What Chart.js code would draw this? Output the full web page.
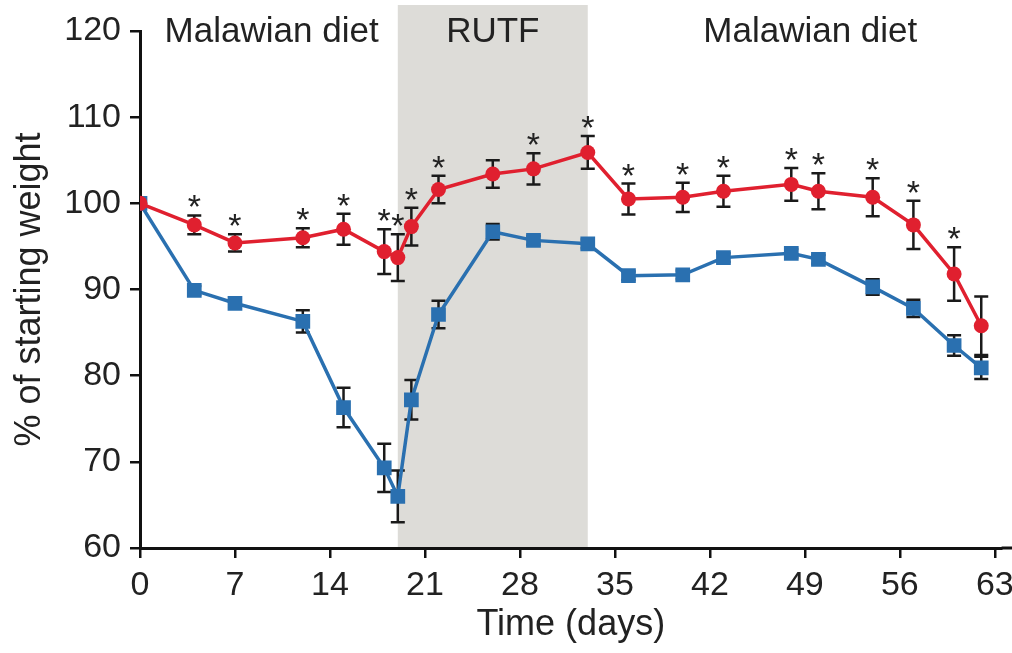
<!DOCTYPE html>
<html>
<head>
<meta charset="utf-8">
<script src="https://cdn.jsdelivr.net/npm/chart.js@4/dist/chart.umd.min.js"></script>
<style>
    html, body { margin: 0; padding: 0; background: #fff; }
    #wrap { width: 1012px; height: 653px; position: relative; }
</style>
</head>
<body>
<div id="wrap"><canvas id="weightChart"></canvas></div>
<script>
// Dias de medição
const days = [0, 4, 7, 12, 15, 18, 19, 20, 22, 26, 29, 33, 36, 40, 43, 48, 50, 54, 57, 60, 62];

// % do peso inicial (média) e erro padrão
const redMean = [100, 97.5, 95.4, 96.0, 97.0, 94.4, 93.7, 97.3, 101.6, 103.4, 104.0, 105.9, 100.5, 100.7, 101.4, 102.2, 101.4, 100.7, 97.5, 91.8, 85.8];
const redErr = [0, 1.1, 1.0, 1.1, 1.8, 2.6, 2.7, 2.2, 1.6, 1.6, 1.8, 1.9, 1.8, 1.7, 1.8, 1.9, 2.1, 2.2, 2.8, 3.1, 3.4];
const blueMean = [100, 89.9, 88.4, 86.3, 76.3, 69.3, 66.0, 77.2, 87.1, 96.7, 95.7, 95.3, 91.6, 91.7, 93.7, 94.2, 93.5, 90.3, 87.8, 83.5, 80.9];
const blueErr = [0, 0.5, 0.5, 1.3, 2.3, 2.8, 3.0, 2.3, 1.6, 0.9, 0.5, 0.5, 0.5, 0.5, 0.5, 0.5, 0.5, 0.9, 1.0, 1.2, 1.3];

// Diferença significativa (*) por dia
const significant = [false, true, true, true, true, true, true, true, true, false, true, true, true, true, true, true, true, true, true, true, false];

// Eixos
const xTicks = [0, 7, 14, 21, 28, 35, 42, 49, 56, 63];
const yTicks = [60, 70, 80, 90, 100, 110, 120];

// Fases da dieta
const rutfStart = 19;
const rutfEnd = 33;
const phaseLabels = ['Malawian diet', 'RUTF', 'Malawian diet'];
const phaseCenters = [9.7, 26, 49.4];

const FONT = '"Liberation Sans", Arial, Helvetica, sans-serif';
const RED = '#e0202f';
const BLUE = '#2a70b0';

// Faixa cinza do período RUTF + rótulos das fases
const phasePlugin = {
    id: 'phases',
    beforeDraw(chart) {
        const { ctx, chartArea, scales: { x } } = chart;
        const x0 = x.getPixelForValue(rutfStart);
        const x1 = x.getPixelForValue(rutfEnd);
        ctx.save();
        ctx.fillStyle = '#dddcd8';
        ctx.fillRect(x0, chartArea.top - 26, x1 - x0, chartArea.bottom - chartArea.top + 26);
        ctx.fillStyle = '#222';
        ctx.font = '35px ' + FONT;
        ctx.textAlign = 'center';
        ctx.textBaseline = 'alphabetic';
        phaseLabels.forEach((label, i) => {
            ctx.fillText(label, x.getPixelForValue(phaseCenters[i]), chartArea.top + 11);
        });
        ctx.restore();
    },
    afterDraw(chart) {
        // eixo x segue até a borda direita
        const { ctx, chartArea } = chart;
        ctx.save();
        ctx.strokeStyle = '#111';
        ctx.lineWidth = 3;
        ctx.beginPath();
        ctx.moveTo(chartArea.right, chartArea.bottom);
        ctx.lineTo(chart.width, chartArea.bottom);
        ctx.stroke();
        ctx.restore();
    }
};

// Barras de erro (desenhadas antes dos marcadores)
const errorBarPlugin = {
    id: 'errorBars',
    beforeDatasetsDraw(chart) {
        const { ctx, scales: { x, y } } = chart;
        ctx.save();
        ctx.strokeStyle = '#1a1a1a';
        ctx.lineWidth = 2.5;
        chart.data.datasets.forEach(ds => {
            ds.data.forEach((pt, i) => {
                const err = ds.errors[i];
                if (!err) return;
                const px = x.getPixelForValue(pt.x);
                const top = y.getPixelForValue(pt.y + err);
                const bot = y.getPixelForValue(pt.y - err);
                ctx.beginPath();
                ctx.moveTo(px, top); ctx.lineTo(px, bot);
                ctx.moveTo(px - 7, top); ctx.lineTo(px + 7, top);
                ctx.moveTo(px - 7, bot); ctx.lineTo(px + 7, bot);
                ctx.stroke();
            });
        });
        ctx.restore();
    },
    afterDatasetsDraw(chart) {
        // asteriscos acima da série vermelha
        const { ctx, scales: { x, y } } = chart;
        ctx.save();
        ctx.fillStyle = '#222';
        ctx.font = '34px ' + FONT;
        ctx.textAlign = 'center';
        ctx.textBaseline = 'alphabetic';
        days.forEach((d, i) => {
            if (!significant[i]) return;
            const px = x.getPixelForValue(d);
            const top = y.getPixelForValue(redMean[i] + redErr[i]);
            ctx.fillText('*', px, top + 3);
        });
        ctx.restore();
    }
};

const toPoints = values => days.map((d, i) => ({ x: d, y: values[i] }));

new Chart(document.getElementById('weightChart'), {
    type: 'line',
    data: {
        datasets: [
            {
                label: 'Malawian diet + RUTF',
                data: toPoints(redMean),
                errors: redErr,
                borderColor: RED,
                backgroundColor: RED,
                borderWidth: 3.5,
                pointStyle: 'circle',
                pointRadius: 7.5,
                pointBorderWidth: 0,
                tension: 0
            },
            {
                label: 'Malawian diet',
                data: toPoints(blueMean),
                errors: blueErr,
                borderColor: BLUE,
                backgroundColor: BLUE,
                borderWidth: 3.5,
                pointStyle: 'rect',
                pointRadius: 10.4,
                pointBorderWidth: 0,
                tension: 0
            }
        ]
    },
    options: {
        responsive: true,
        maintainAspectRatio: false,
        animation: false,
        layout: { padding: { top: 31, right: 4, left: 0, bottom: 0 } },
        plugins: {
            legend: { display: false },
            tooltip: { enabled: false }
        },
        scales: {
            x: {
                type: 'linear',
                min: 0,
                max: 63.5,
                afterBuildTicks: scale => { scale.ticks = xTicks.map(v => ({ value: v })); },
                afterFit: scale => { scale.height = 105; scale.paddingLeft = 0; scale.paddingRight = 0; },
                border: { color: '#111', width: 3 },
                grid: { drawOnChartArea: false, drawTicks: true, tickLength: 10, color: '#111', lineWidth: 2.5 },
                ticks: { color: '#222', padding: 7, maxRotation: 0, font: { family: FONT, size: 34 } },
                title: {
                    display: true,
                    text: 'Time (days)',
                    color: '#222',
                    font: { family: FONT, size: 36 },
                    padding: { top: 0, bottom: 6 }
                }
            },
            y: {
                min: 60,
                max: 120,
                afterBuildTicks: scale => { scale.ticks = yTicks.map(v => ({ value: v })); },
                afterFit: scale => { scale.width = 140; scale.paddingTop = 0; scale.paddingBottom = 0; },
                border: { color: '#111', width: 3 },
                grid: { drawOnChartArea: false, drawTicks: true, tickLength: 10, color: '#111', lineWidth: 2.5 },
                ticks: { color: '#222', padding: 9, font: { family: FONT, size: 34 } },
                title: {
                    display: true,
                    text: '% of starting weight',
                    color: '#222',
                    font: { family: FONT, size: 36 },
                    padding: { top: 8, bottom: 0 }
                }
            }
        }
    },
    plugins: [phasePlugin, errorBarPlugin]
});
</script>
</body>
</html>
